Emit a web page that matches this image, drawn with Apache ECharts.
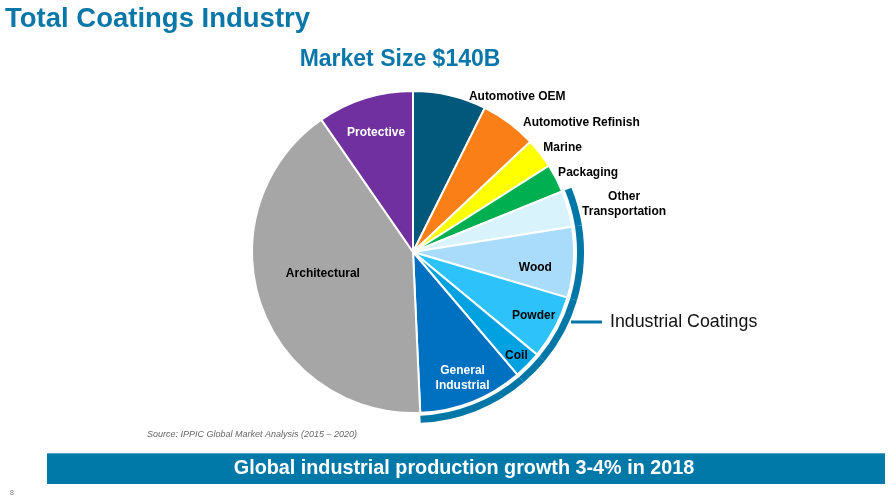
<!DOCTYPE html>
<html>
<head>
<meta charset="utf-8">
<script src="https://cdn.jsdelivr.net/npm/echarts@6/dist/echarts.min.js"></script>
<style>
  html, body { margin: 0; padding: 0; background: #fff; }
  #chart { width: 896px; height: 497px; }
</style>
</head>
<body>
<div id="chart"></div>
<script>
// data: market segments, size in $B (total ~140)
var segments = ['Automotive OEM', 'Automotive Refinish', 'Marine', 'Packaging', 'Other\nTransportation',
                'Wood', 'Powder', 'Coil', 'General\nIndustrial', 'Architectural', 'Protective'];
var sizeBn = [10.3, 7.9, 4.2, 4.0, 5.1, 9.9, 9.0, 3.9, 14.7, 57.5, 13.5];
var industrialSegments = ['Other\nTransportation', 'Wood', 'Powder', 'Coil', 'General\nIndustrial'];

// styles
var sliceColors = ['#02587B', '#FA7F17', '#FFFF00', '#00B050', '#D8F3FC',
                   '#A9DBFB', '#2DC3FA', '#00A1E0', '#0070C0', '#A6A6A6', '#7030A0'];
var labelInside = [false, false, false, false, false, true, true, true, true, true, true];
var labelColors = ['#000', '#000', '#000', '#000', '#000', '#000', '#000', '#000', '#fff', '#000', '#fff'];
// nudge of each label from the library's default spot
var labelShift = [[14, 1], [9, 0], [-2, -6], [-3, -6], [51, -5],
                  [39, 10], [47, 24], [44, 45], [19, 48], [-11, -5], [-12, -40]];
var arcColor = '#0077A6';

var chart = echarts.init(document.getElementById('chart'));

var pieData = segments.map(function (name, i) {
  return {
    name: name,
    value: sizeBn[i],
    itemStyle: { color: sliceColors[i] },
    label: { position: labelInside[i] ? 'inside' : 'outside', color: labelColors[i] }
  };
});

// outer ring that marks the industrial coatings group
var ringData = segments.map(function (name, i) {
  var inGroup = industrialSegments.indexOf(name) >= 0;
  return { name: name, value: sizeBn[i], itemStyle: { color: inGroup ? arcColor : 'rgba(0,0,0,0)' } };
});

var option = {
  animation: false,
  graphic: [
    { type: 'text', left: 5, top: 5,
      style: { text: 'Total Coatings Industry', font: 'bold 27.5px "Liberation Sans", Arial', fill: '#0A77A9' } },
    { type: 'text', x: 400, y: 60,
      style: { text: 'Market Size $140B', font: 'bold 23px "Liberation Sans", Arial', fill: '#0B76A9',
               textAlign: 'center', textVerticalAlign: 'middle' } },
    { type: 'line', shape: { x1: 571, y1: 322, x2: 602, y2: 322 },
      style: { stroke: arcColor, lineWidth: 3 } },
    { type: 'text', x: 610, y: 322,
      style: { text: 'Industrial Coatings', font: '17.8px "Liberation Sans", Arial', fill: '#111',
               textVerticalAlign: 'middle' } },
    { type: 'text', x: 147, y: 434,
      style: { text: 'Source: IPPIC Global Market Analysis (2015 \u2013 2020)', font: 'italic 9px "Liberation Sans", Arial',
               fill: '#666', textVerticalAlign: 'middle' } },
    { type: 'rect', shape: { x: 47, y: 453, width: 838, height: 31 },
      style: { fill: '#0078A8' } },
    { type: 'line', shape: { x1: 47, y1: 453.5, x2: 885, y2: 453.5 },
      style: { stroke: '#4FA3C7', lineWidth: 1 } },
    { type: 'text', x: 464, y: 468.5,
      style: { text: 'Global industrial production growth 3-4% in 2018', font: 'bold 19.8px "Liberation Sans", Arial',
               fill: '#fff', textAlign: 'center', textVerticalAlign: 'middle' } },
    { type: 'text', x: 12, y: 493,
      style: { text: '8', font: '7px "Liberation Sans", Arial', fill: '#777', textAlign: 'center', textVerticalAlign: 'middle' } }
  ],
  series: [
    {
      type: 'pie',
      center: [413, 252],
      radius: 161,
      startAngle: 90,
      clockwise: true,
      avoidLabelOverlap: false,
      itemStyle: { borderColor: '#fff', borderWidth: 2 },
      label: {
        show: true,
        fontFamily: '"Liberation Sans", Arial',
        fontWeight: 'bold',
        fontSize: 12,
        lineHeight: 15,
        formatter: '{b}'
      },
      labelLine: { show: false, length: 0, length2: 0 },
      labelLayout: function (p) {
        var s = labelShift[p.dataIndex];
        var out = { dx: s[0], dy: s[1] };
        if (segments[p.dataIndex] === 'Other\nTransportation') out.align = 'center';
        return out;
      },
      emphasis: { disabled: true },
      data: pieData
    },
    {
      type: 'pie',
      center: [413, 252],
      radius: [164, 171],
      startAngle: 90,
      clockwise: true,
      silent: true,
      label: { show: false },
      labelLine: { show: false },
      itemStyle: { borderWidth: 0 },
      emphasis: { disabled: true },
      data: ringData
    }
  ]
};

chart.setOption(option);
</script>
</body>
</html>
